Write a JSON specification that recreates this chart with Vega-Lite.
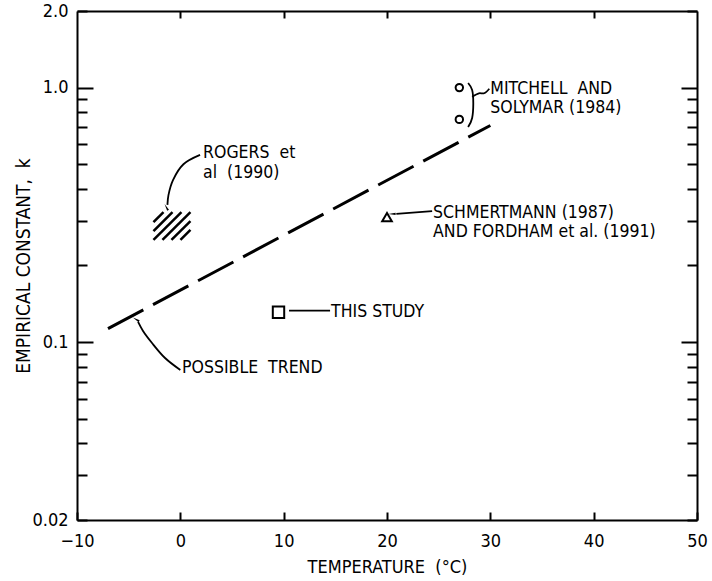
{
  "$schema": "https://vega.github.io/schema/vega-lite/v6.json",
  "width": 620,
  "height": 509,
  "autosize": {"type": "none"},
  "padding": {"left": 77, "top": 11, "right": 15, "bottom": 61},
  "background": "white",
  "config": {
    "view": {"stroke": null},
    "font": "DejaVu Sans Condensed, DejaVu Sans",
    "axis": {
      "grid": false,
      "domainColor": "black",
      "domainWidth": 2,
      "tickColor": "black",
      "tickWidth": 2,
      "labelColor": "black",
      "labelFont": "DejaVu Sans Condensed, DejaVu Sans",
      "labelFontSize": 18,
      "labelOverlap": false,
      "labelFlush": false,
      "labelBound": false,
      "titleColor": "black",
      "titleFont": "DejaVu Sans Condensed, DejaVu Sans",
      "titleFontSize": 18,
      "titleFontWeight": "normal"
    }
  },
  "datasets": {
    "trend": [
      {"t": -7, "k": 0.113},
      {"t": 30, "k": 0.71}
    ],
    "hatch": [
      {"t": -2.6, "k": 0.296, "t2": -1.63, "k2": 0.324},
      {"t": -2.6, "k": 0.273, "t2": -0.76, "k2": 0.324},
      {"t": -2.6, "k": 0.252, "t2": 0.11, "k2": 0.324},
      {"t": -1.73, "k": 0.252, "t2": 0.98, "k2": 0.324},
      {"t": -0.86, "k": 0.252, "t2": 0.98, "k2": 0.299},
      {"t": 0.01, "k": 0.252, "t2": 0.98, "k2": 0.276}
    ],
    "markers": [
      {"source": "Mitchell and Solymar (1984)", "t": 27, "k": 1.0},
      {"source": "Mitchell and Solymar (1984)", "t": 27, "k": 0.75},
      {"source": "Schmertmann (1987), Fordham et al. (1991)", "t": 20, "k": 0.31},
      {"source": "This study", "t": 9.5, "k": 0.131}
    ],
    "leaders": [
      {"id": "ms_brace", "i": 0, "t": 27.85, "k": 1.043},
      {"id": "ms_brace", "i": 1, "t": 28.24, "k": 0.979},
      {"id": "ms_brace", "i": 2, "t": 28.24, "k": 0.76},
      {"id": "ms_brace", "i": 3, "t": 27.85, "k": 0.7},
      {"id": "ms_arm", "i": 0, "t": 28.24, "k": 0.92},
      {"id": "ms_arm", "i": 1, "t": 28.9, "k": 0.95},
      {"id": "ms_arm", "i": 2, "t": 29.4, "k": 0.95},
      {"id": "ms_arm", "i": 3, "t": 29.9, "k": 0.99},
      {"id": "schmertmann", "i": 0, "t": 24.37, "k": 0.327},
      {"id": "schmertmann", "i": 1, "t": 20.9, "k": 0.319},
      {"id": "this_study", "i": 0, "t": 10.52, "k": 0.133},
      {"id": "this_study", "i": 1, "t": 14.49, "k": 0.133},
      {"id": "trend", "i": 0, "t": 0.0, "k": 0.0777},
      {"id": "trend", "i": 1, "t": -1.48, "k": 0.0866},
      {"id": "trend", "i": 2, "t": -2.74, "k": 0.0992},
      {"id": "trend", "i": 3, "t": -3.61, "k": 0.1106},
      {"id": "trend", "i": 4, "t": -4.09, "k": 0.12},
      {"id": "rogers", "i": 0, "t": 1.91, "k": 0.544},
      {"id": "rogers", "i": 1, "t": 0.3, "k": 0.5},
      {"id": "rogers", "i": 2, "t": -0.7, "k": 0.434},
      {"id": "rogers", "i": 3, "t": -1.15, "k": 0.378},
      {"id": "rogers", "i": 4, "t": -1.25, "k": 0.346}
    ],
    "arrows": [
      {"id": "schmertmann", "t": 20.6, "k": 0.319},
      {"id": "trend", "t": -4.19, "k": 0.1221},
      {"id": "rogers", "t": -1.3, "k": 0.336}
    ],
    "labels": [
      {"label": "MITCHELL\u00a0 AND", "t": 30.0, "k": 0.987},
      {"label": "SOLYMAR (1984)", "t": 30.0, "k": 0.832},
      {"label": "SCHMERTMANN (1987)", "t": 24.46, "k": 0.322},
      {"label": "AND FORDHAM et al. (1991)", "t": 24.46, "k": 0.271},
      {"label": "THIS STUDY", "t": 14.59, "k": 0.131},
      {"label": "POSSIBLE\u00a0 TREND", "t": 0.17, "k": 0.0791},
      {"label": "ROGERS\u00a0 et", "t": 2.2, "k": 0.553},
      {"label": "al\u00a0 (1990)", "t": 2.2, "k": 0.462}
    ]
  },
  "layer": [
    {
      "data": {"name": "trend"},
      "mark": {"type": "line", "color": "black", "strokeWidth": 3, "strokeDash": [40, 11]},
      "encoding": {
        "x": {
          "field": "t", "type": "quantitative",
          "scale": {"domain": [-10, 50], "nice": false, "zero": false},
          "axis": {
            "orient": "bottom",
            "values": [-10, 0, 10, 20, 30, 40, 50],
            "tickSize": -8,
            "labelPadding": 20,
            "title": "TEMPERATURE\u00a0 (°C)",
            "titlePadding": 8
          }
        },
        "y": {
          "field": "k", "type": "quantitative",
          "scale": {"type": "log", "domain": [0.02, 2], "nice": false},
          "axis": {
            "orient": "left",
            "values": [0.02, 0.03, 0.04, 0.05, 0.06, 0.07, 0.08, 0.09, 0.1, 0.2, 0.3, 0.4, 0.5, 0.6, 0.7, 0.8, 0.9, 1, 2],
            "tickSize": {"condition": {"test": "datum.value === 1 || datum.value === 0.1", "value": -16}, "value": -10},
            "labelPadding": {"condition": {"test": "datum.value === 1 || datum.value === 0.1", "value": 25}, "value": 19},
            "labelExpr": "datum.value === 2 ? '2.0' : datum.value === 1 ? '1.0' : datum.value === 0.1 ? '0.1' : datum.value === 0.02 ? '0.02' : ''",
            "title": "EMPIRICAL CONSTANT,\u00a0 k",
            "titleFontSize": 19,
            "titlePadding": -2
          }
        }
      }
    },
    {
      "data": {"name": "hatch"},
      "mark": {"type": "rule", "color": "black", "strokeWidth": 2.5},
      "encoding": {
        "x": {"field": "t", "type": "quantitative", "scale": {"domain": [-10, 50], "nice": false, "zero": false}, "axis": null},
        "y": {"field": "k", "type": "quantitative", "scale": {"type": "log", "domain": [0.02, 2], "nice": false}, "axis": null},
        "x2": {"field": "t2"},
        "y2": {"field": "k2"}
      }
    },
    {
      "data": {"name": "markers"},
      "mark": {"type": "point", "filled": false, "color": "black", "strokeWidth": 2, "opacity": 1},
      "encoding": {
        "x": {"field": "t", "type": "quantitative", "scale": {"domain": [-10, 50], "nice": false, "zero": false}, "axis": null},
        "y": {"field": "k", "type": "quantitative", "scale": {"type": "log", "domain": [0.02, 2], "nice": false}, "axis": null},
        "shape": {
          "field": "source", "type": "nominal", "legend": null,
          "scale": {
            "domain": ["Mitchell and Solymar (1984)", "Schmertmann (1987), Fordham et al. (1991)", "This study"],
            "range": ["circle", "triangle-up", "square"]
          }
        },
        "size": {
          "field": "source", "type": "nominal", "legend": null,
          "scale": {
            "domain": ["Mitchell and Solymar (1984)", "Schmertmann (1987), Fordham et al. (1991)", "This study"],
            "range": [55, 130, 190]
          }
        }
      }
    },
    {
      "data": {"name": "leaders"},
      "mark": {"type": "line", "color": "black", "strokeWidth": 1.8, "interpolate": "catmull-rom"},
      "encoding": {
        "x": {"field": "t", "type": "quantitative", "scale": {"domain": [-10, 50], "nice": false, "zero": false}, "axis": null},
        "y": {"field": "k", "type": "quantitative", "scale": {"type": "log", "domain": [0.02, 2], "nice": false}, "axis": null},
        "detail": {"field": "id", "type": "nominal"},
        "order": {"field": "i", "type": "quantitative"}
      }
    },
    {
      "data": {"name": "arrows"},
      "mark": {"type": "point", "shape": "wedge", "filled": true, "color": "black", "size": 70, "opacity": 1},
      "encoding": {
        "x": {"field": "t", "type": "quantitative", "scale": {"domain": [-10, 50], "nice": false, "zero": false}, "axis": null},
        "y": {"field": "k", "type": "quantitative", "scale": {"type": "log", "domain": [0.02, 2], "nice": false}, "axis": null},
        "angle": {
          "field": "id", "type": "nominal", "legend": null,
          "scale": {"domain": ["schmertmann", "trend", "rogers"], "range": [270, 331, 188]}
        }
      }
    },
    {
      "data": {"name": "labels"},
      "mark": {"type": "text", "align": "left", "baseline": "middle", "color": "black", "fontSize": 17.5, "font": "DejaVu Sans Condensed, DejaVu Sans"},
      "encoding": {
        "x": {"field": "t", "type": "quantitative", "scale": {"domain": [-10, 50], "nice": false, "zero": false}, "axis": null},
        "y": {"field": "k", "type": "quantitative", "scale": {"type": "log", "domain": [0.02, 2], "nice": false}, "axis": null},
        "text": {"field": "label"}
      }
    },
    {
      "data": {"name": "trend"},
      "mark": {"type": "point", "opacity": 0},
      "encoding": {
        "x": {
          "field": "t", "type": "quantitative",
          "scale": {"domain": [-10, 50], "nice": false, "zero": false},
          "axis": {"orient": "top", "values": [0, 10, 20, 30, 40], "tickSize": -7, "labels": false, "title": null}
        },
        "y": {
          "field": "k", "type": "quantitative",
          "scale": {"type": "log", "domain": [0.02, 2], "nice": false},
          "axis": {
            "orient": "right",
            "values": [0.02, 0.03, 0.04, 0.05, 0.06, 0.07, 0.08, 0.09, 0.1, 0.2, 0.3, 0.4, 0.5, 0.6, 0.7, 0.8, 0.9, 1, 2],
            "tickSize": {"condition": {"test": "datum.value === 1 || datum.value === 0.1", "value": -16}, "value": -10},
            "labels": false,
            "title": null
          }
        }
      }
    }
  ],
  "resolve": {"axis": {"x": "independent", "y": "independent"}}
}
